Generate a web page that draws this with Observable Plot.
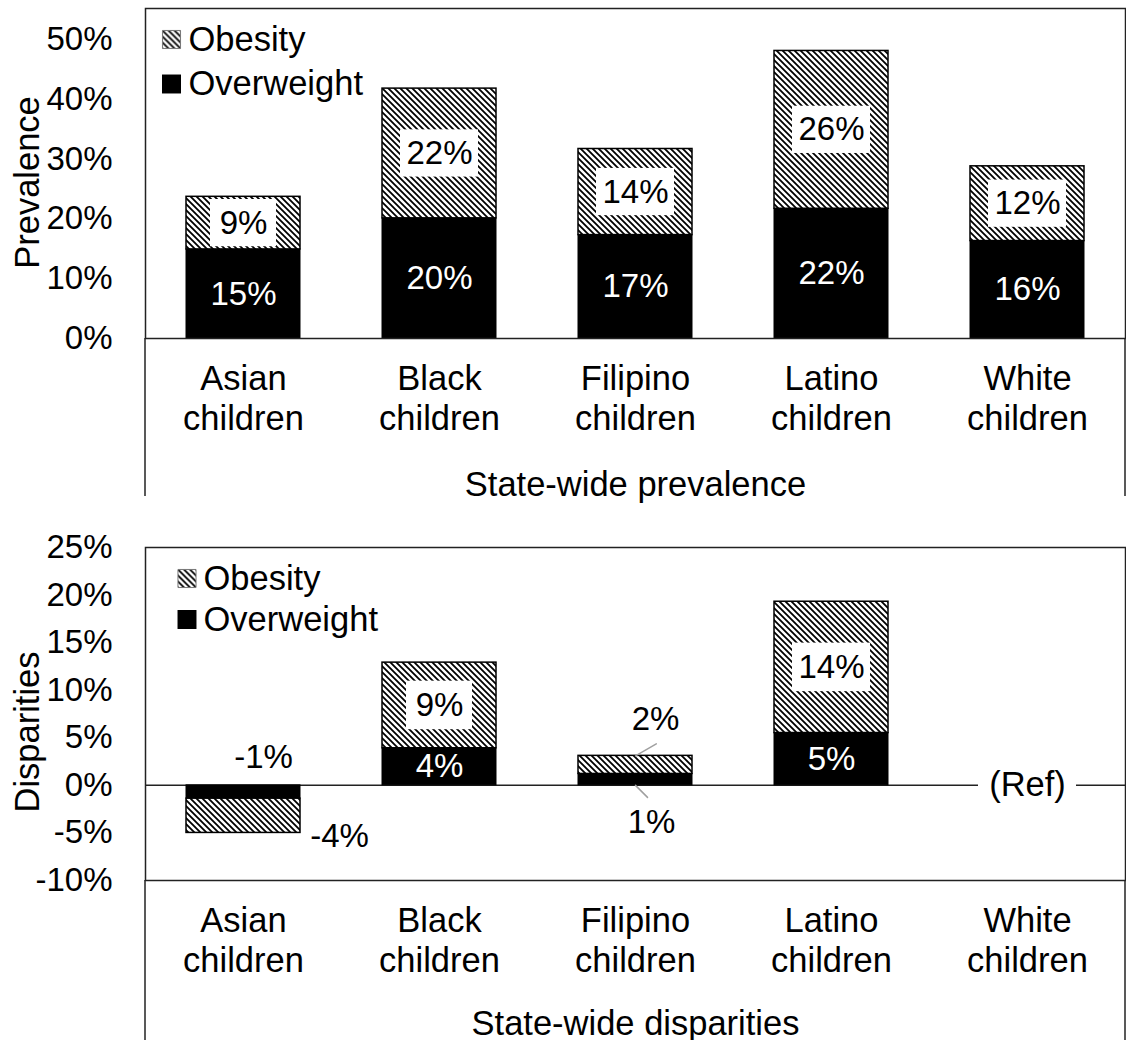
<!DOCTYPE html>
<html>
<head>
<meta charset="utf-8">
<script src="https://cdn.jsdelivr.net/npm/d3@7"></script>
<script src="https://cdn.jsdelivr.net/npm/@observablehq/plot@0.6"></script>
<style>
  body { margin: 0; background: #fff; }
  #chart svg { display: block; }
</style>
</head>
<body>
<svg width="0" height="0" style="position:absolute">
  <defs>
    <pattern id="hatch" patternUnits="userSpaceOnUse" width="6" height="6">
      <rect width="6" height="6" fill="#fff"></rect>
      <path d="M0,0L6,6M-1,5L1,7M5,-1L7,1" stroke="#000" stroke-width="1.8"></path>
    </pattern>
  </defs>
</svg>
<div id="chart"></div>
<script>
// ---------- data ----------
const categories = ["Asian children", "Black children", "Filipino children", "Latino children", "White children"];
const seriesNames = ["Obesity", "Overweight"];

// State-wide prevalence (%)
const prevOverweight = [14.9, 20.1, 17.3, 21.7, 16.3];
const prevObesity = [8.8, 21.7, 14.4, 26.4, 12.5];
const prevOverweightLabels = ["15%", "20%", "17%", "22%", "16%"];
const prevObesityLabels = ["9%", "22%", "14%", "26%", "12%"];
const prevTicks = [0, 10, 20, 30, 40, 50];

// State-wide disparities (% points vs White children)
const dispOverweight = [-1.4, 3.9, 1.2, 5.5, null];
const dispObesity = [-3.6, 9.0, 1.9, 13.8, null];
const dispOverweightLabels = ["-1%", "4%", "1%", "5%", ""];
const dispObesityLabels = ["-4%", "9%", "2%", "14%", ""];
const dispTicks = [-10, -5, 0, 5, 10, 15, 20, 25];
const refCategory = "White children";
const refLabel = "(Ref)";

// ---------- helpers ----------
const FONT = "'Liberation Sans', Arial, Helvetica, sans-serif";
const FS = 33;     // numbers
const FT = 34.5;   // words
const W = 1126;

function stackRows(over, obes, overLabels, obesLabels) {
  const rows = [];
  categories.forEach((c, i) => {
    if (over[i] == null) return;
    rows.push({cat: c, series: "Overweight", y1: 0, y2: over[i], label: overLabels[i]});
    rows.push({cat: c, series: "Obesity", y1: over[i], y2: over[i] + obes[i], label: obesLabels[i]});
  });
  return rows;
}

function makePanel(cfg) {
  const over = cfg.rows.filter(d => d.series === "Overweight");
  const obes = cfg.rows.filter(d => d.series === "Obesity");
  const inside = d => !cfg.outside.includes(d.cat);
  const mid = d => (d.y1 + d.y2) / 2;
  const obesIn = obes.filter(inside);
  const marks = [
    ...(cfg.before || []),
    Plot.barY(over, {x: "cat", y1: "y1", y2: "y2", fill: "#000", stroke: "#000", strokeWidth: 1}),
    Plot.barY(obes, {x: "cat", y1: "y1", y2: "y2", fill: "url(#hatch)", stroke: "#000", strokeWidth: 1.5}),
    Plot.barY(obesIn.filter(d => d.label.length <= 2), {x: "cat", y1: d => mid(d) - cfg.boxHalf, y2: d => mid(d) + cfg.boxHalf, fill: "#fff", insetLeft: 24, insetRight: 24}),
    Plot.barY(obesIn.filter(d => d.label.length > 2), {x: "cat", y1: d => mid(d) - cfg.boxHalf, y2: d => mid(d) + cfg.boxHalf, fill: "#fff", insetLeft: 18, insetRight: 18}),
    Plot.text(obesIn, {x: "cat", y: mid, text: "label", fill: "#000", fontSize: FS}),
    Plot.text(over.filter(inside), {x: "cat", y: mid, text: "label", fill: "#fff", fontSize: FS}),
    Plot.axisY({ticks: cfg.ticks, tickFormat: d => d + "%", tickSize: 0, tickPadding: 33, fontSize: FS, label: null, fill: "#000"}),
    Plot.axisX({tickSize: 0, tickPadding: 23, tickFormat: d => d.replace(" ", "\n"), lineHeight: 1.16, fontSize: FT, label: null, fill: "#000"}),
    Plot.text([cfg.yLabel], {frameAnchor: "left", text: d => d, rotate: -90, textAnchor: "middle", lineAnchor: "middle", dx: -118, dy: cfg.yLabelDy, fontSize: FT, fill: "#000"}),
    Plot.text([cfg.xTitle], {frameAnchor: "bottom", text: d => d, textAnchor: "middle", lineAnchor: "middle", dy: cfg.titleDy, fontSize: FT, fill: "#000"}),
    Plot.frame({stroke: "#222", strokeWidth: 1.5}),
    // legend
    Plot.dot([seriesNames[0]], {frameAnchor: "top-left", dx: cfg.legend.sx, dy: cfg.legend.y0, symbol: "square", r: 10.2, fill: "url(#hatch)", stroke: "#777", strokeWidth: 1}),
    Plot.dot([seriesNames[1]], {frameAnchor: "top-left", dx: cfg.legend.sx, dy: cfg.legend.y1, symbol: "square", r: 10.7, fill: "#000", stroke: "none"}),
    Plot.text([seriesNames[0]], {frameAnchor: "top-left", text: d => d, dx: cfg.legend.tx, dy: cfg.legend.y0, textAnchor: "start", lineAnchor: "middle", fontSize: FT, fill: "#000"}),
    Plot.text([seriesNames[1]], {frameAnchor: "top-left", text: d => d, dx: cfg.legend.tx, dy: cfg.legend.y1, textAnchor: "start", lineAnchor: "middle", fontSize: FT, fill: "#000"}),
    ...(cfg.after || [])
  ];
  const svg = Plot.plot({
    width: W,
    height: cfg.height,
    marginLeft: 145,
    marginRight: 1,
    marginTop: cfg.marginTop,
    marginBottom: cfg.marginBottom,
    style: {fontFamily: FONT, background: "#fff", color: "#000", overflow: "visible"},
    x: {type: "band", domain: categories, paddingInner: 0.42, paddingOuter: 0.21},
    y: {domain: cfg.yDomain},
    marks
  });
  // extend the side borders of the box down through the category area
  const s = d3.select(svg);
  const yb = cfg.height - cfg.marginBottom;
  [145, W - 1].forEach(x => {
    s.append("line").attr("x1", x).attr("x2", x).attr("y1", yb).attr("y2", cfg.extendTo)
      .attr("stroke", "#222").attr("stroke-width", 1.5);
  });
  return svg;
}

// ---------- top panel ----------
const prevRows = stackRows(prevOverweight, prevObesity, prevOverweightLabels, prevObesityLabels);
const topPanel = makePanel({
  rows: prevRows,
  outside: [],
  height: 500,
  marginTop: 8,
  marginBottom: 162,
  yDomain: [0, 55.2],
  ticks: prevTicks,
  boxHalf: 3.95,
  yLabel: "Prevalence",
  yLabelDy: 9,
  xTitle: "State-wide prevalence",
  titleDy: 146,
  extendTo: 496,
  legend: {sx: 26, tx: 43, y0: 31, y1: 75.5}
});

// ---------- bottom panel ----------
const dispRows = stackRows(dispOverweight, dispObesity, dispOverweightLabels, dispObesityLabels);
const asianCat = categories[0], filipinoCat = categories[2];
const dOver = dispRows.filter(d => d.series === "Overweight");
const dObes = dispRows.filter(d => d.series === "Obesity");
const leader = {draw(ctx, l) { ctx.moveTo(0, 0); ctx.lineTo(0, -l); }};
const bottomPanel = makePanel({
  rows: dispRows,
  outside: [asianCat, filipinoCat],
  height: 540,
  marginTop: 47,
  marginBottom: 160,
  yDomain: [-10, 25],
  ticks: dispTicks,
  boxHalf: 2.55,
  yLabel: "Disparities",
  yLabelDy: 18,
  xTitle: "State-wide disparities",
  titleDy: 143,
  extendTo: 540,
  legend: {sx: 41.5, tx: 58, y0: 31, y1: 72},
  before: [
    Plot.ruleY([0], {stroke: "#222", strokeWidth: 1.5})
  ],
  after: [
    // Asian labels outside the bars
    Plot.text(dOver.filter(d => d.cat === asianCat), {x: "cat", y: "y1", text: "label", dx: 20, dy: -28, fontSize: FS, fill: "#000"}),
    Plot.text(dObes.filter(d => d.cat === asianCat), {x: "cat", y: "y2", text: "label", dx: 96, dy: 4, fontSize: FS, fill: "#000"}),
    // Filipino labels with leader lines
    Plot.vector(dObes.filter(d => d.cat === filipinoCat), {x: "cat", y: "y2", length: 24, rotate: 60, anchor: "start", shape: leader, stroke: "#a0a0a0", strokeWidth: 1.5}),
    Plot.vector(dOver.filter(d => d.cat === filipinoCat), {x: "cat", y: "y1", length: 17, rotate: 135, anchor: "start", shape: leader, stroke: "#a0a0a0", strokeWidth: 1.5}),
    Plot.text(dObes.filter(d => d.cat === filipinoCat), {x: "cat", y: "y2", text: "label", dx: 20, dy: -36, fontSize: FS, fill: "#000"}),
    Plot.text(dOver.filter(d => d.cat === filipinoCat), {x: "cat", y: "y1", text: "label", dx: 16, dy: 37, fontSize: FS, fill: "#000"}),
    // reference label on the zero line
    Plot.barY([refCategory], {x: d => d, y1: -1.2, y2: 1.2, fill: "#fff", insetLeft: 8, insetRight: 8}),
    Plot.text([refCategory], {x: d => d, y: 0, text: () => refLabel, fontSize: FT, fill: "#000"})
  ]
});

const chart = document.getElementById("chart");
chart.appendChild(topPanel);
chart.appendChild(bottomPanel);
</script>
</body>
</html>
